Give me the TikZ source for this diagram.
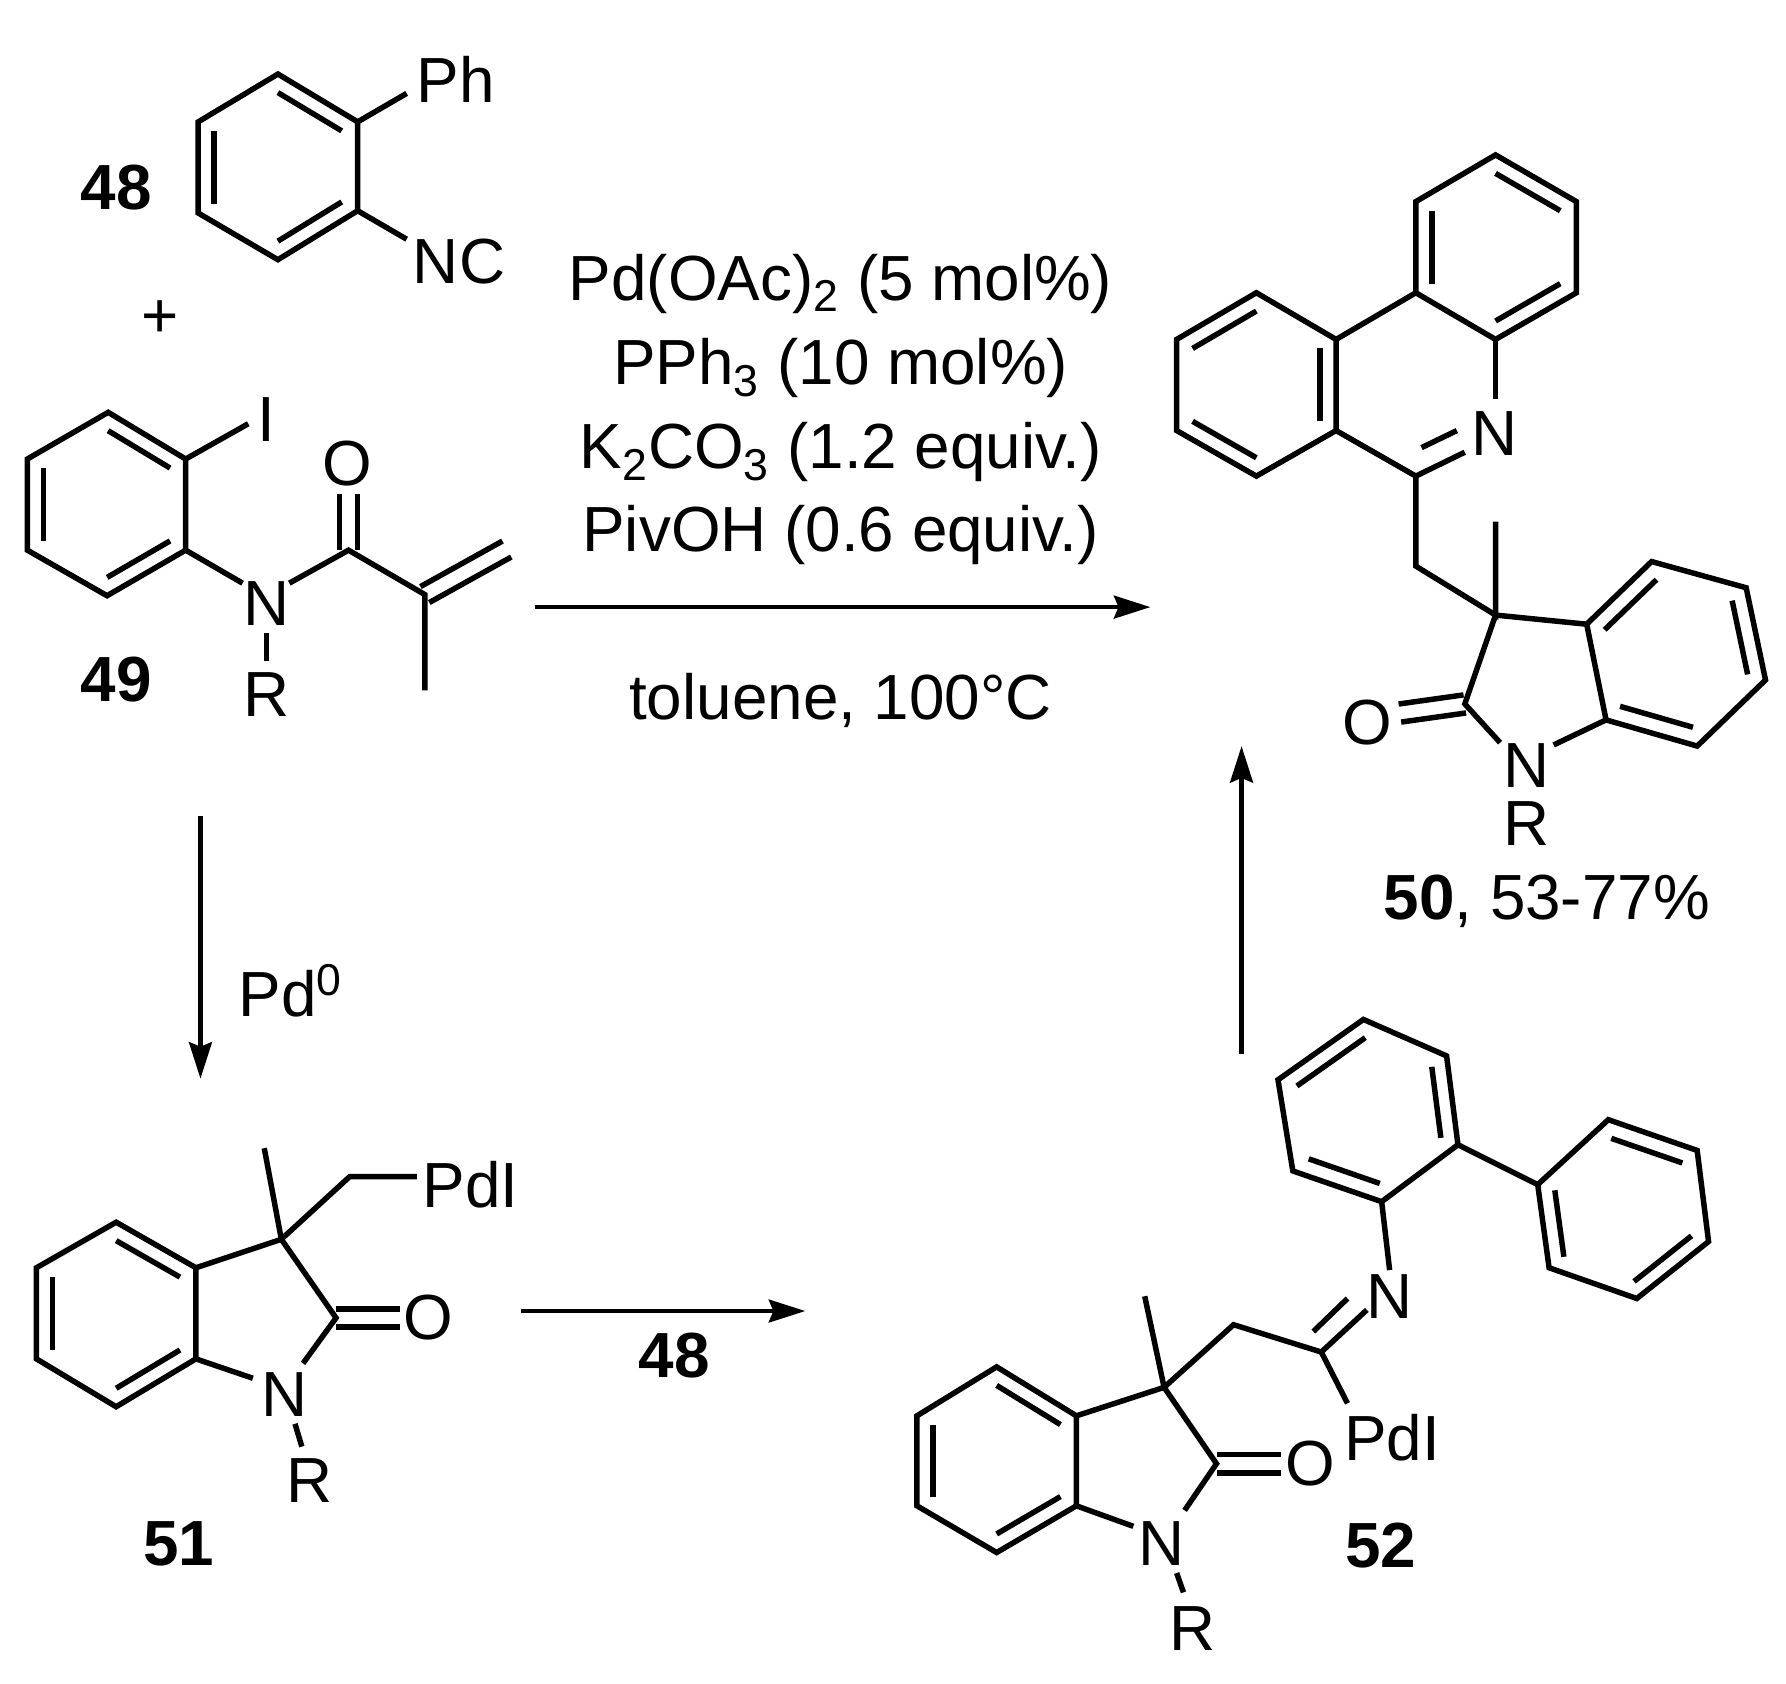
\documentclass[tikz,border=0pt]{standalone}
\usepackage{fontspec}
\setmainfont{Liberation Sans}
\usetikzlibrary{calc,arrows.meta}
\tikzset{
  x=0.5pt,y=-0.5pt,
  bond/.style={line width=2.4pt,line cap=butt,line join=miter,black},
  lab/.style={font=\fontsize{28}{28}\selectfont,inner sep=0pt,text=black},
  num/.style={font=\fontsize{28}{28}\selectfont\bfseries,inner sep=0pt,text=black},
  rxn/.style={line width=2pt,black,-{Stealth[length=16pt,width=10pt,inset=2pt]}},
}
\newcommand{\sixring}[7]{%
  \coordinate (#11) at #2; \coordinate (#12) at #3; \coordinate (#13) at #4;
  \coordinate (#14) at #5; \coordinate (#15) at #6; \coordinate (#16) at #7;
  \coordinate (#1c) at ($(#11)!.5!(#14)$);
  \draw[bond] (#11)--(#12)--(#13)--(#14)--(#15)--(#16)--cycle;}
\newcommand{\inner}[3]{\draw[bond] ($(#1)!.2!(#3)$) -- ($(#2)!.2!(#3)$);}
\newcommand{\dbl}[2]{%
  \draw[bond] ($(#1)!4pt!90:(#2)$) -- ($(#2)!4pt!-90:(#1)$);
  \draw[bond] ($(#1)!4pt!-90:(#2)$) -- ($(#2)!4pt!90:(#1)$);}
\begin{document}
\begin{tikzpicture}
\useasboundingbox (0,0) rectangle (1568,1478);
% 48
\sixring{a}{(244,65)}{(314,107)}{(314,185)}{(244,228)}{(174,187)}{(174,107)}
\inner{a1}{a2}{ac}\inner{a3}{a4}{ac}\inner{a5}{a6}{ac}
\node[lab] (ph) at (400,70) {Ph};
\node[lab] (nc) at (403,230) {NC};
\coordinate (phb) at (357,82); \coordinate (ncb) at (357,210);
\draw[bond] (a2)--(phb); \draw[bond] (a3)--(ncb);
\node[num] (n48) at (102,165) {48};
\node[lab] (plus) at (141,280) {+};
% 49
\sixring{b}{(95,362)}{(163,403)}{(163,483)}{(94,523)}{(24,483)}{(24,403)}
\inner{b1}{b2}{bc}\inner{b3}{b4}{bc}\inner{b5}{b6}{bc}
\node[lab] (bi) at (234,368) {I};
\node[lab] (bn) at (234,530) {N};
\node[lab] (bo) at (305,407) {O};
\node[lab] (br) at (234,610) {R};
\node[num] (n49) at (102,597) {49};
\coordinate (bc1) at (306,483); \coordinate (bc2) at (373,522);
\coordinate (bc3) at (445,482); \coordinate (bc4) at (373,606);
\coordinate (bob) at (306,434);
\coordinate (bib) at (218,372);
\draw[bond] (b2)--(bib);
\draw[bond] (b3)--(213,512);
\draw[bond] (254,512)--(bc1)--(bc2)--(bc4);
\dbl{bc1}{bob}
\dbl{bc2}{bc3}
\draw[bond] (234,556)--(234,580);
% conditions
\node[lab] (c1) at (738,249) {Pd(OAc)\textsubscript{2} (5 mol\%)};
\node[lab] (c2) at (738,323) {PPh\textsubscript{3} (10 mol\%)};
\node[lab] (c3) at (738,397) {K\textsubscript{2}CO\textsubscript{3} (1.2 equiv.)};
\node[lab] (c4) at (738,470) {PivOH (0.6 equiv.)};
\node[lab] (c5) at (738,615) {toluene, 100°C};
\coordinate (ar1s) at (470,533); \coordinate (ar1e) at (1010,533);
\draw[rxn] (ar1s)--(ar1e);
% 50
\sixring{c}{(1313,136)}{(1384,177)}{(1384,257)}{(1313,298)}{(1243,257)}{(1243,177)}
\inner{c1}{c2}{cc}\inner{c3}{c4}{cc}\inner{c5}{c6}{cc}
\sixring{d}{(1103,257)}{(1173,298)}{(1173,378)}{(1103,418)}{(1033,378)}{(1033,298)}
\inner{d6}{d1}{dc}\inner{d4}{d5}{dc}\inner{d2}{d3}{dc}
\coordinate (cim) at (1243,418); \coordinate (cch) at (1243,497); \coordinate (cq) at (1313,540);
\node[lab] (cn) at (1312,381) {N};
\draw[bond] (d2)--(c5); \draw[bond] (d3)--(cim)--(cch)--(cq)--(1313,458);
\draw[bond] (c4)--(1313,350);
\draw[bond] (cim)--(1286,397);
\draw[bond] (1248,393)--(1279,378);
\sixring{e}{(1393,548)}{(1450,493)}{(1533,516)}{(1550,597)}{(1490,655)}{(1410,632)}
\inner{e1}{e2}{ec}\inner{e3}{e4}{ec}\inner{e5}{e6}{ec}
\coordinate (cco) at (1286,618);
\node[lab] (en) at (1340,672) {N};
\node[lab] (eo) at (1200,634) {O};
\node[lab] (er) at (1340,723) {R};
\draw[bond] (cq)--(e1); \draw[bond] (cq)--(cco)--(1317,652); \draw[bond] (e6)--(1364,654);
\dbl{cco}{1229,626}
\node[lab] (y50) at (1358,791) {\textbf{50}, 53-77\%};
\coordinate (ar2s) at (1090,925); \coordinate (ar2e) at (1090,655);
\draw[rxn] (ar2s)--(ar2e);
\coordinate (ar3s) at (176,716); \coordinate (ar3e) at (176,947);
\draw[rxn] (ar3s)--(ar3e);
\node[lab] (pd0) at (255,870) {Pd\textsuperscript{0}};
% 51
\sixring{f}{(102,1073)}{(172,1113)}{(172,1193)}{(102,1235)}{(32,1193)}{(32,1113)}
\inner{f1}{f2}{fc}\inner{f3}{f4}{fc}\inner{f5}{f6}{fc}
\coordinate (fq) at (247,1088); \coordinate (fch) at (307,1033); \coordinate (fco) at (295,1157);
\node[lab] (fpd) at (413,1040) {PdI};
\node[lab] (fo) at (376,1157) {O};
\node[lab] (fn) at (250,1224) {N};
\node[lab] (fr) at (272,1300) {R};
\node[num] (n51) at (157,1355) {51};
\draw[bond] (f2)--(fq)--(232,1008);
\draw[bond] (fq)--(fch)--(366,1033);
\draw[bond] (fq)--(fco)--(266,1197);
\draw[bond] (f3)--(222,1210);
\dbl{fco}{351,1157}
\draw[bond] (259,1250)--(265,1270);
\coordinate (ar4s) at (457,1151); \coordinate (ar4e) at (707,1151);
\draw[rxn] (ar4s)--(ar4e);
\node[num] (n48b) at (592,1190) {48};
% 52
\sixring{g}{(875,1200)}{(945,1243)}{(945,1322)}{(875,1363)}{(805,1322)}{(805,1243)}
\inner{g1}{g2}{gc}\inner{g3}{g4}{gc}\inner{g5}{g6}{gc}
\coordinate (gq) at (1022,1218); \coordinate (gch) at (1083,1163); \coordinate (gim) at (1160,1187);
\coordinate (gco) at (1068,1285);
\node[lab] (gn2) at (1220,1138) {N};
\node[lab] (gpd) at (1222,1262) {PdI};
\node[lab] (go) at (1150,1285) {O};
\node[lab] (gn) at (1020,1355) {N};
\node[lab] (gr) at (1047,1430) {R};
\node[num] (n52) at (1212,1357) {52};
\draw[bond] (g2)--(gq)--(1005,1138);
\draw[bond] (gq)--(gch)--(gim)--(1183,1232);
\draw[bond] (gim)--(1200,1150);
\draw[bond] (1153,1169)--(1183,1140);
\draw[bond] (gq)--(gco)--(1040,1326);
\dbl{gco}{1125,1285}
\draw[bond] (g3)--(995,1340);
\draw[bond] (1033,1381)--(1039,1398);
\sixring{h}{(1197,895)}{(1270,927)}{(1280,1005)}{(1213,1055)}{(1135,1028)}{(1122,948)}
\inner{h6}{h1}{hc}\inner{h2}{h3}{hc}\inner{h4}{h5}{hc}
\draw[bond] (1220,1115)--(h4);
\sixring{j}{(1350,1040)}{(1412,983)}{(1490,1010)}{(1500,1090)}{(1437,1140)}{(1360,1113)}
\inner{j2}{j3}{jc}\inner{j4}{j5}{jc}\inner{j6}{j1}{jc}
\draw[bond] (h3)--(j1);
\end{tikzpicture}
\end{document}
